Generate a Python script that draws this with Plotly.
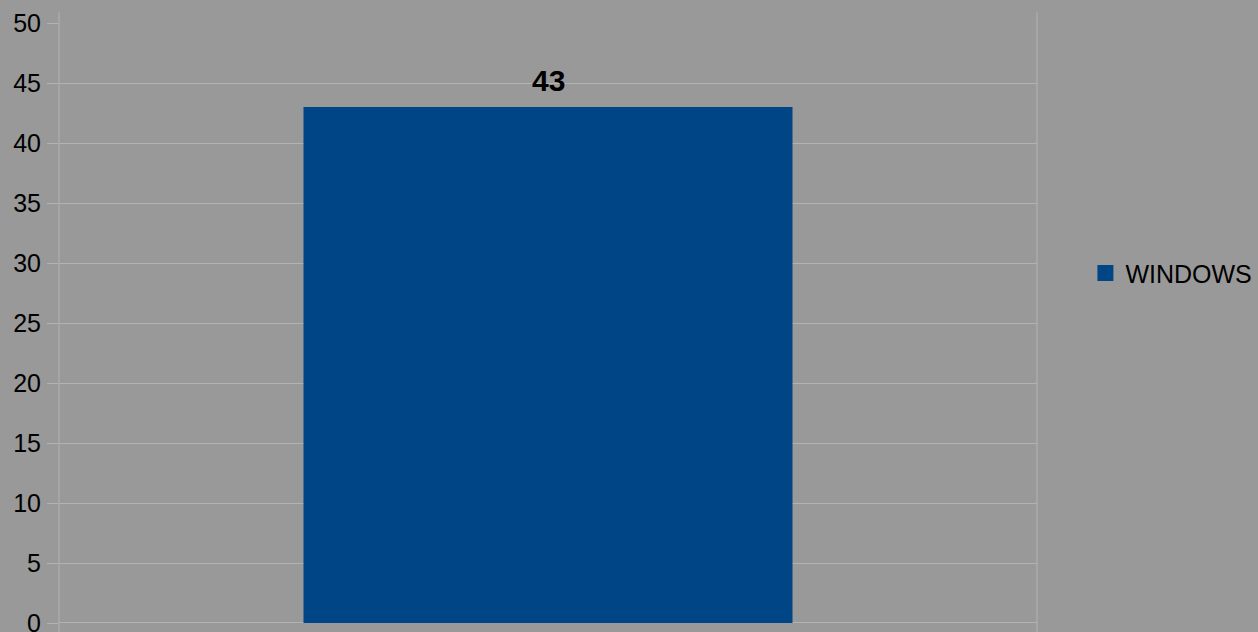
import plotly.graph_objects as go

categories = ["WINDOWS"]
series_name = "WINDOWS"
values = [43]
y_ticks = [0, 5, 10, 15, 20, 25, 30, 35, 40, 45, 50]

BG = "#999999"
GRID = "#b3b3b3"
BAR = "#004586"

fig = go.Figure()
fig.add_trace(go.Bar(
    x=categories, y=values, name=series_name,
    marker=dict(color=BAR, line=dict(width=0)),
    cliponaxis=False, showlegend=False,
))
# legend entry with a larger square swatch
fig.add_trace(go.Scatter(
    x=categories, y=[None], mode="markers", name=series_name,
    marker=dict(symbol="square", size=16, color=BAR, line=dict(width=0)),
    showlegend=True,
))

for c, v in zip(categories, values):
    fig.add_annotation(x=c, y=v, text=f"<b>{v}</b>", showarrow=False,
                       yanchor="bottom", yshift=8,
                       font=dict(family="Liberation Sans", size=30, color="black"))

fig.update_layout(
    width=1258, height=632,
    paper_bgcolor=BG, plot_bgcolor=BG,
    margin=dict(l=59, r=221, t=23, b=9, autoexpand=False),
    font=dict(family="Liberation Sans", size=25, color="black"),
    bargap=0.5,
    showlegend=True,
    legend=dict(x=1.0495, y=0.583, xanchor="left", yanchor="middle",
                bgcolor="rgba(0,0,0,0)", font=dict(size=25),
                itemwidth=30),
    xaxis=dict(type="category", showticklabels=False, showgrid=False, zeroline=False,
               showline=False, ticks="", automargin=False),
    yaxis=dict(range=[0, 50], tickvals=y_ticks, showgrid=True, gridcolor=GRID,
               gridwidth=1, zeroline=False, showline=False, automargin=False,
               ticks="outside", ticklen=11, tickcolor=GRID, tickwidth=1,
               ticklabelstandoff=1, ticklabeloverflow="allow", fixedrange=True),
    shapes=[
        dict(type="line", xref="paper", yref="paper", x0=0, x1=0, y0=-0.03, y1=1.018,
             line=dict(color=GRID, width=1), layer="below"),
        dict(type="line", xref="paper", yref="paper", x0=1, x1=1, y0=-0.03, y1=1.018,
             line=dict(color=GRID, width=1), layer="below"),
        dict(type="line", xref="paper", yref="y", x0=0, x1=1, y0=0, y1=0,
             line=dict(color=GRID, width=2), layer="below"),
    ],
)

fig.write_html("out.html", config={"displayModeBar": False},
               post_script="document.body.style.margin='0';")
